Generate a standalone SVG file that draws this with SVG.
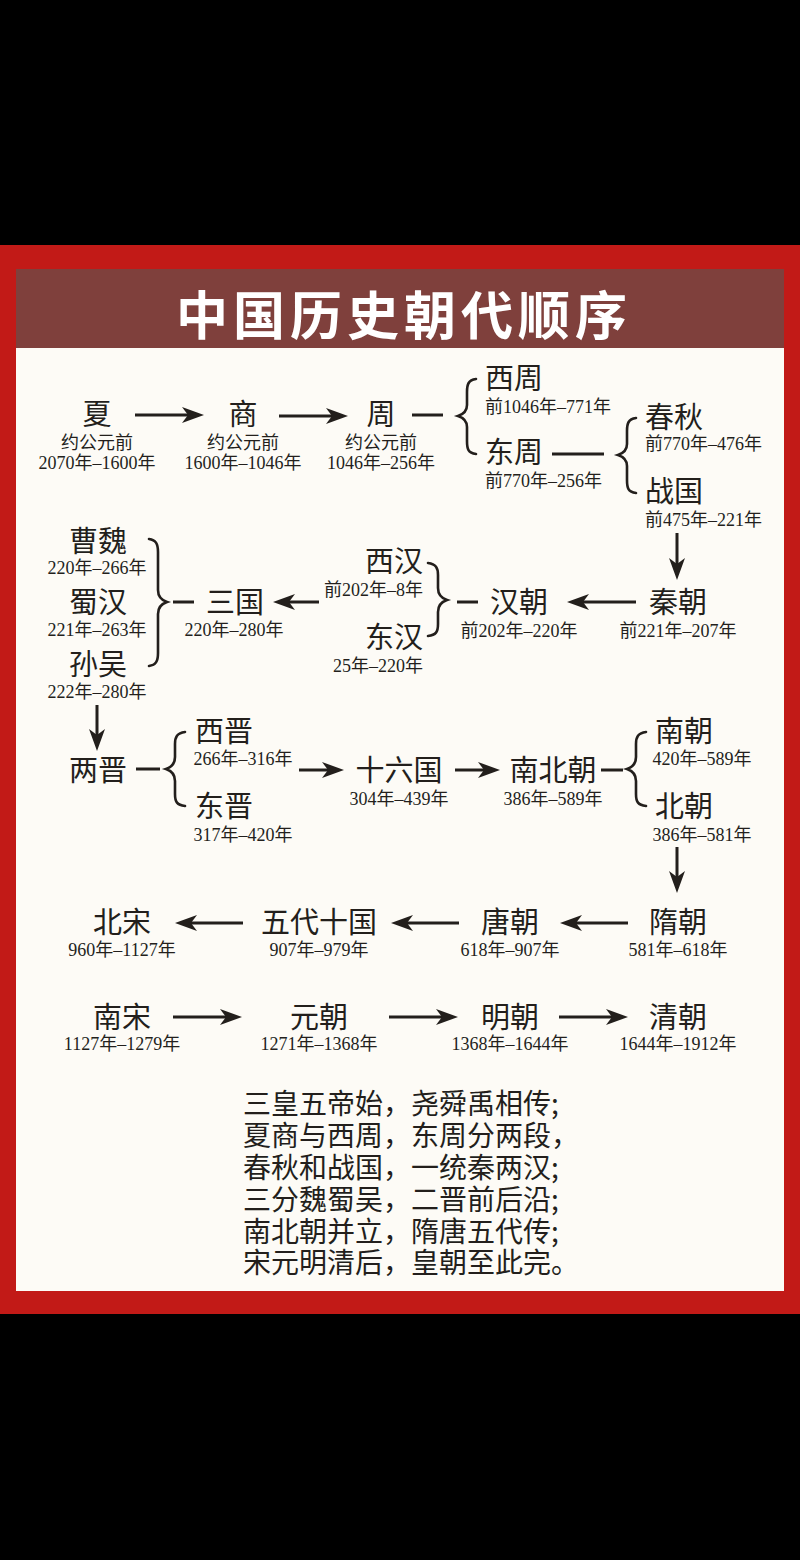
<svg xmlns="http://www.w3.org/2000/svg" width="800" height="1560" viewBox="0 0 800 1560">
<style>
text{font-family:"Liberation Serif","Noto Sans CJK SC",serif;fill:#231f1c;text-anchor:middle}
.n{font-size:29px;font-family:"Noto Sans CJK SC",sans-serif}
.d{font-size:18px}
.s{text-anchor:start}
.e{text-anchor:end}
.p{font-size:28px;font-family:"Noto Sans CJK SC",sans-serif;text-anchor:start}
.t{font-size:52px;font-weight:700;font-family:"Noto Sans CJK SC",sans-serif;fill:#fff;letter-spacing:5px}
.a,.l,.b{fill:none;stroke:#231f1c}
.a{stroke-width:3;marker-end:url(#ah)}
.l{stroke-width:3}
.b{stroke-width:2.6;stroke-linecap:round}
</style>
<defs>
<marker id="ah" markerUnits="userSpaceOnUse" viewBox="0 0 22 18" markerWidth="22" markerHeight="18" refX="8" refY="9" orient="auto" overflow="visible"><path d="M0 1L22 9L0 17L6 9Z" fill="#231f1c"/></marker>
</defs>
<rect width="800" height="1560" fill="#000"/>
<rect y="245" width="800" height="1069" fill="#c21a17"/>
<rect x="16" y="269" width="768" height="1022" fill="#fdfbf6"/>
<rect x="16" y="269" width="768" height="79" fill="#7f403c"/>
<text class="t" x="404" y="335">中国历史朝代顺序</text>

<g id="connectors">
<path class="a" d="M135 415H190"/>
<path class="a" d="M279 416H334"/>
<path class="l" d="M412 415H443"/>
<path class="b" d="M476 379C468 380 467 385 467 392V405C467 411 464 414 458 416C464 418 467 421 467 427V441C467 449 468 453 476 454"/>
<path class="l" d="M552 454H604"/>
<path class="b" d="M636 418C628 419 627 424 627 431V444C627 450 624 453 618 455C624 457 627 460 627 466V480C627 488 628 492 636 493"/>
<path class="a" d="M677 533V566"/>
<path class="a" d="M636 602H581"/>
<path class="l" d="M457 602H478"/>
<path class="b" d="M428 563C436 564 438 568 438 575V588C438 594 441 598 447 600C441 602 438 606 438 612V624C438 632 436 635 428 636"/>
<path class="a" d="M319 602H287"/>
<path class="l" d="M173 602H194"/>
<path class="b" d="M149 539C156 540 158 544 158 552V590C158 596 161 600 167 602C161 604 158 608 158 614V653C158 661 156 665 149 666"/>
<path class="a" d="M97 705V737"/>
<path class="l" d="M136 769H160"/>
<path class="b" d="M185 732C177 733 175 737 175 744V757C175 763 172 767 166 769C172 771 175 775 175 781V794C175 802 177 805 185 806"/>
<path class="a" d="M299 770H330"/>
<path class="a" d="M455 770H486"/>
<path class="l" d="M601 770H623"/>
<path class="b" d="M646 732C638 733 636 737 636 744V757C636 763 633 767 627 769C633 771 636 775 636 781V794C636 802 638 805 646 806"/>
<path class="a" d="M677 847V879"/>
<path class="a" d="M628 923H574"/>
<path class="a" d="M459 923H405"/>
<path class="a" d="M243 923H189"/>
<path class="a" d="M173 1017H228"/>
<path class="a" d="M389 1017H444"/>
<path class="a" d="M559 1017H614"/>
</g>

<g id="xia"><text class="n" x="97" y="425">夏</text><text class="d" x="97" y="449">约公元前</text><text class="d" x="97" y="469">2070年–1600年</text></g>
<g id="shang"><text class="n" x="243" y="425">商</text><text class="d" x="243" y="449">约公元前</text><text class="d" x="243" y="469">1600年–1046年</text></g>
<g id="zhou"><text class="n" x="381" y="425">周</text><text class="d" x="381" y="449">约公元前</text><text class="d" x="381" y="469">1046年–256年</text></g>
<g id="xizhou"><text class="n s" x="485" y="389">西周</text><text class="d s" x="485" y="413">前1046年–771年</text></g>
<g id="dongzhou"><text class="n s" x="485" y="463">东周</text><text class="d s" x="485" y="487">前770年–256年</text></g>
<g id="chunqiu"><text class="n s" x="645" y="428">春秋</text><text class="d s" x="645" y="450">前770年–476年</text></g>
<g id="zhanguo"><text class="n s" x="645" y="502">战国</text><text class="d s" x="645" y="526">前475年–221年</text></g>
<g id="qin"><text class="n" x="678" y="613">秦朝</text><text class="d" x="678" y="637">前221年–207年</text></g>
<g id="han"><text class="n" x="519" y="613">汉朝</text><text class="d" x="519" y="637">前202年–220年</text></g>
<g id="xihan"><text class="n e" x="423" y="572">西汉</text><text class="d e" x="423" y="596">前202年–8年</text></g>
<g id="donghan"><text class="n e" x="423" y="648">东汉</text><text class="d e" x="423" y="672">25年–220年</text></g>
<g id="sanguo"><text class="n" x="235" y="613">三国</text><text class="d" x="234" y="636">220年–280年</text></g>
<g id="caowei"><text class="n" x="98" y="552">曹魏</text><text class="d" x="97" y="574">220年–266年</text></g>
<g id="shuhan"><text class="n" x="98" y="613">蜀汉</text><text class="d" x="97" y="636">221年–263年</text></g>
<g id="sunwu"><text class="n" x="98" y="675">孙吴</text><text class="d" x="97" y="698">222年–280年</text></g>
<g id="liangjin"><text class="n" x="98" y="781">两晋</text></g>
<g id="xijin"><text class="n" x="224" y="742">西晋</text><text class="d" x="243" y="765">266年–316年</text></g>
<g id="dongjin"><text class="n" x="224" y="817">东晋</text><text class="d" x="243" y="841">317年–420年</text></g>
<g id="shiliuguo"><text class="n" x="399" y="781">十六国</text><text class="d" x="399" y="805">304年–439年</text></g>
<g id="nanbeichao"><text class="n" x="553" y="781">南北朝</text><text class="d" x="553" y="805">386年–589年</text></g>
<g id="nanchao"><text class="n" x="684" y="742">南朝</text><text class="d" x="702" y="765">420年–589年</text></g>
<g id="beichao"><text class="n" x="684" y="817">北朝</text><text class="d" x="702" y="841">386年–581年</text></g>
<g id="sui"><text class="n" x="678" y="933">隋朝</text><text class="d" x="678" y="956">581年–618年</text></g>
<g id="tang"><text class="n" x="510" y="933">唐朝</text><text class="d" x="510" y="956">618年–907年</text></g>
<g id="wudai"><text class="n" x="319" y="933">五代十国</text><text class="d" x="319" y="956">907年–979年</text></g>
<g id="beisong"><text class="n" x="122" y="933">北宋</text><text class="d" x="122" y="956">960年–1127年</text></g>
<g id="nansong"><text class="n" x="122" y="1028">南宋</text><text class="d" x="122" y="1050">1127年–1279年</text></g>
<g id="yuan"><text class="n" x="319" y="1028">元朝</text><text class="d" x="319" y="1050">1271年–1368年</text></g>
<g id="ming"><text class="n" x="510" y="1028">明朝</text><text class="d" x="510" y="1050">1368年–1644年</text></g>
<g id="qing"><text class="n" x="678" y="1028">清朝</text><text class="d" x="678" y="1050">1644年–1912年</text></g>

<g id="poem">
<text class="p" x="243" y="1114">三皇五帝始，尧舜禹相传;</text>
<text class="p" x="243" y="1146">夏商与西周，东周分两段，</text>
<text class="p" x="243" y="1178">春秋和战国，一统秦两汉;</text>
<text class="p" x="243" y="1210">三分魏蜀吴，二晋前后沿;</text>
<text class="p" x="243" y="1242">南北朝并立，隋唐五代传;</text>
<text class="p" x="243" y="1273">宋元明清后，皇朝至此完。</text>
</g>
</svg>
